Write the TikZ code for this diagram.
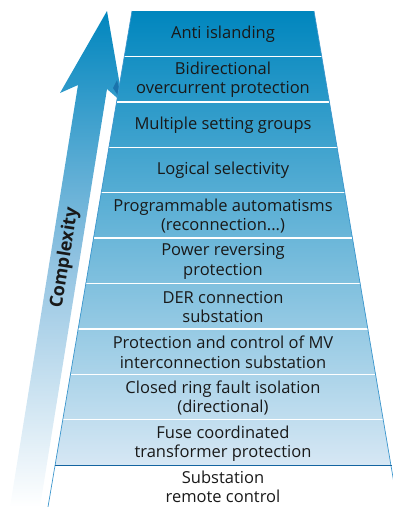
\documentclass[tikz,border=0pt]{standalone}
\usepackage{fontspec}
\setmainfont{Open Sans}
\definecolor{topblue}{RGB}{0,134,190}
\definecolor{midblue}{RGB}{96,168,212}
\definecolor{lowblue}{RGB}{214,231,244}
\definecolor{edgeblue}{RGB}{60,150,205}
\definecolor{darkline}{RGB}{20,100,160}
\definecolor{txt}{RGB}{25,25,25}
\begin{document}
\begin{tikzpicture}[x=1pt,y=-1pt,
  lbl/.style={align=center,text=txt,font=\fontsize{16.5}{19.5}\selectfont,inner sep=0pt},
  sep/.style={white,line width=1.4pt},
  side/.style={edgeblue,line width=0.7pt}]
\useasboundingbox (0,0) rectangle (392,507);
% arrow
\shade[top color=topblue, bottom color=white, middle color=midblue!70]
  (107,11) -- (123,103) -- (107,89) -- (40,507) -- (10,507) -- (78,85) -- (60,93) -- cycle;
\fill[darkline,opacity=0.7] (113,88) -- (123,103) -- (117,80) -- cycle;
% trapezoid
\shade[top color=topblue, middle color=midblue, bottom color=lowblue]
  (132,11) -- (314,11) -- (391,465) -- (55,465) -- cycle;
\foreach \k in {1,...,9}{
  \pgfmathsetmacro{\yy}{11+45.4*\k}
  \pgfmathsetmacro{\xl}{132-0.1696*(\yy-11)}
  \pgfmathsetmacro{\xr}{314+0.1696*(\yy-11)}
  \draw[sep] (\xl,\yy) -- (\xr,\yy);
}
\draw[side] (132,11) -- (48,507);
\draw[side] (314,11) -- (398,507);
\draw[darkline,line width=0.9pt] (55,465) -- (392,465);
% labels
\node[lbl] (b1) at (223,34.5) {Anti islanding};
\node[lbl] (b2) at (223,79.5) {Bidirectional\\overcurrent protection};
\node[lbl] (b3) at (223,125) {Multiple setting groups};
\node[lbl] (b4) at (223,170.5) {Logical selectivity};
\node[lbl] (b5) at (223,216) {Programmable automatisms\\(reconnection...)};
\node[lbl] (b6) at (223,261.5) {Power reversing\\protection};
\node[lbl] (b7) at (223,307) {DER connection\\substation};
\node[lbl] (b8) at (223,352.5) {Protection and control of MV\\interconnection substation};
\node[lbl] (b9) at (223,398) {Closed ring fault isolation\\(directional)};
\node[lbl] (b10) at (223,443.5) {Fuse coordinated\\transformer protection};
\node[lbl] (b11) at (223,487) {Substation\\remote control};
\node[text=txt,font=\fontsize{18}{20}\selectfont\bfseries,rotate=81,inner sep=0pt] (cx) at (65,258) {Complexity};
\end{tikzpicture}
\end{document}
